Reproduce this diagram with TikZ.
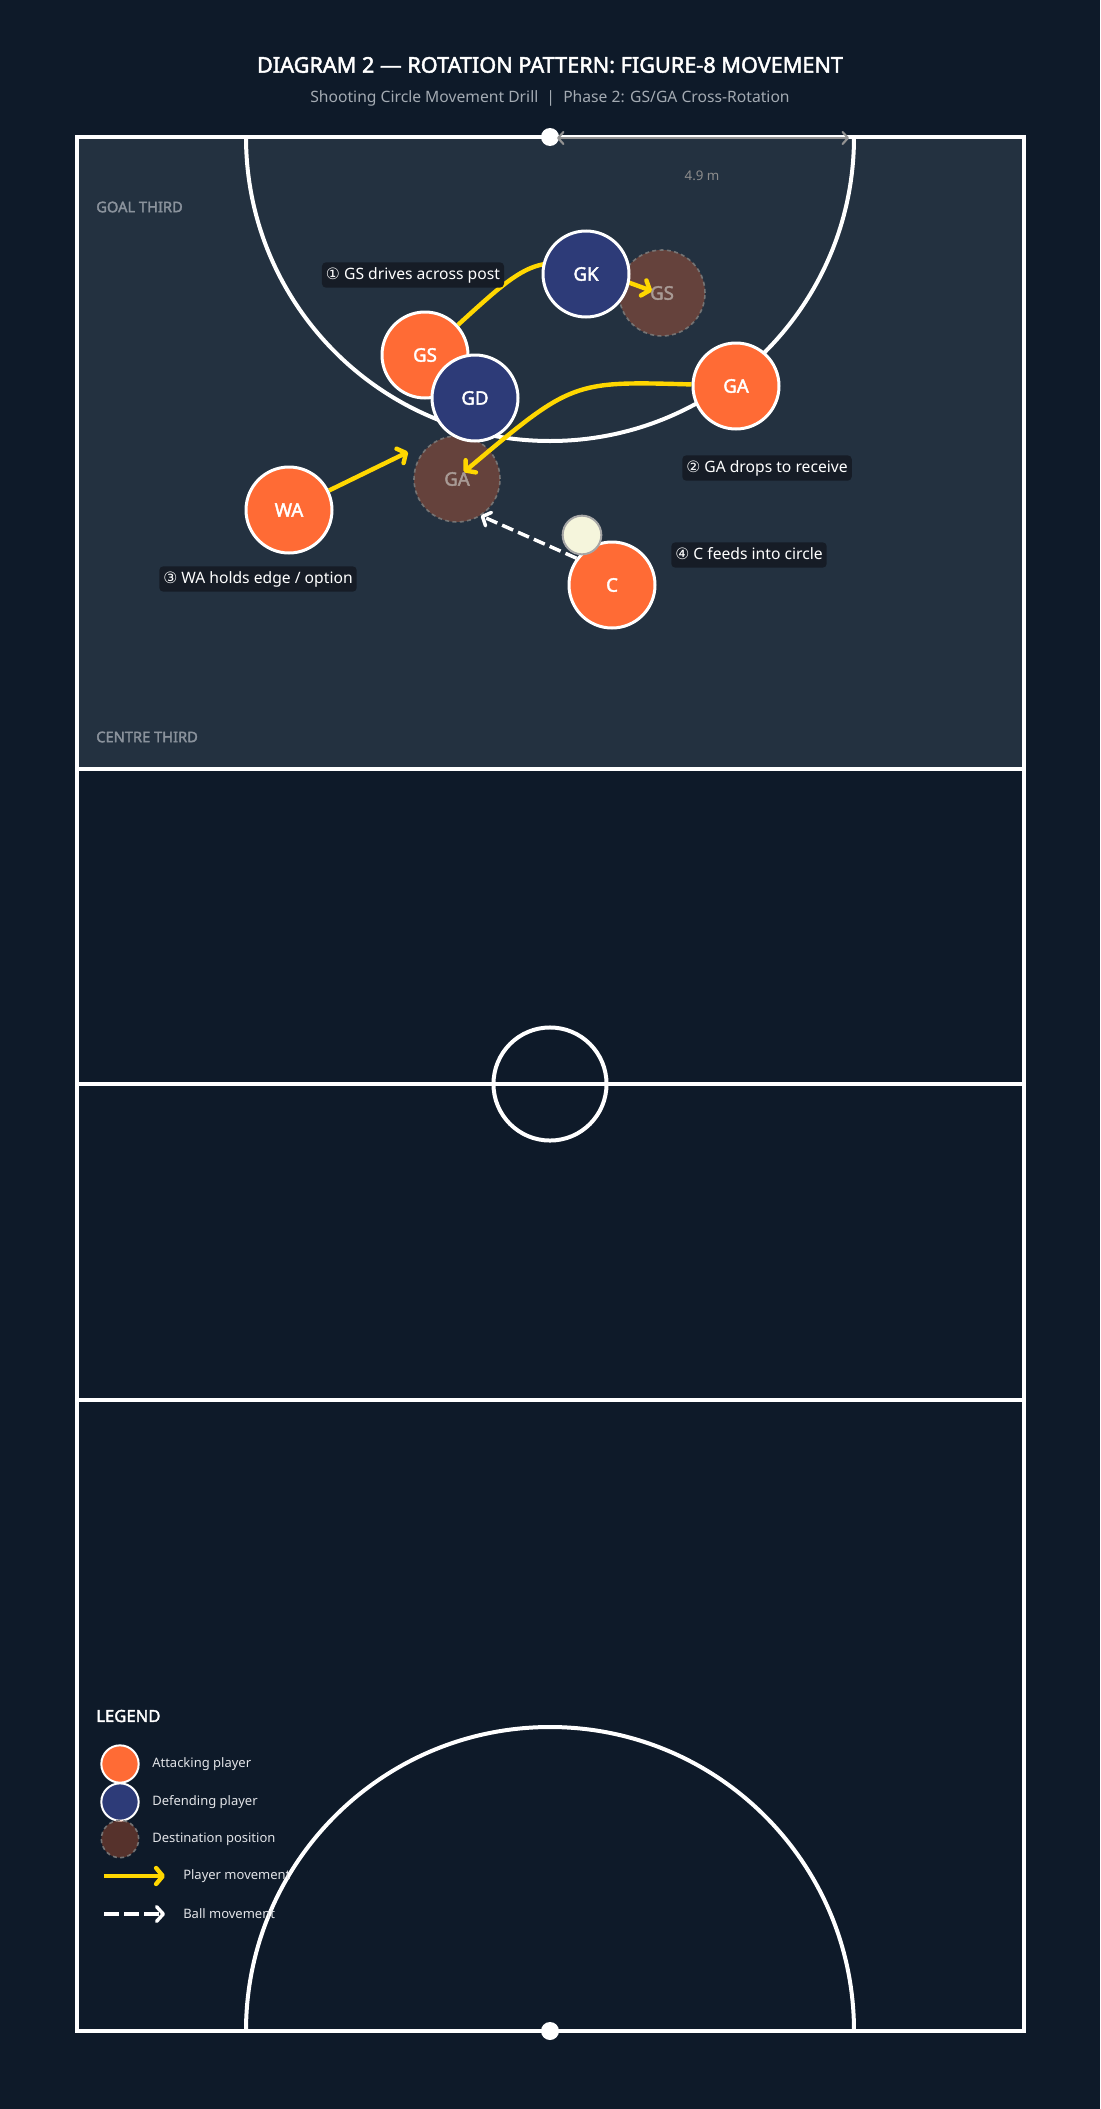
\documentclass[tikz,border=0pt]{standalone}
\usepackage{fontspec}
\setmainfont{Noto Sans}[AutoFakeBold=2.2]
\newfontfamily\symf{DejaVu Sans}
\usetikzlibrary{arrows.meta}
\definecolor{bgc}{HTML}{0E1A29}
\definecolor{thirdc}{HTML}{233140}
\definecolor{atkc}{HTML}{FF6B35}
\definecolor{defc}{HTML}{2D3B78}
\definecolor{mvc}{HTML}{FFD700}
\definecolor{lblc}{HTML}{161C26}
\definecolor{subc}{HTML}{A3AAB2}
\definecolor{zonec}{HTML}{8A929C}
\definecolor{ballc}{HTML}{F5F5DC}
\definecolor{destc}{HTML}{7A7A7A}
\definecolor{desttxt}{HTML}{A89A95}
\definecolor{legtxt}{HTML}{E2E4E8}
\pgfdeclarelayer{bg}
\pgfdeclarelayer{arr}
\pgfsetlayers{bg,arr,main}
\tikzset{
  court/.style={draw=white, line width=3pt},
  player/.style={circle, minimum size=64.5pt, inner sep=0pt, draw=white, line width=2.25pt, text=white, font=\bfseries\fontsize{14}{16}\selectfont},
  atk/.style={player, fill=atkc},
  dfn/.style={player, fill=defc},
  dest/.style={circle, minimum size=64.5pt, inner sep=0pt, fill=atkc, fill opacity=0.3, text opacity=1, draw=destc, draw opacity=0.9, dash pattern=on 3pt off 2.5pt, line width=1.2pt, text=desttxt, font=\bfseries\fontsize{14}{16}\selectfont},
  mvarrow/.style={draw=mvc, line width=3.3pt, -{Straight Barb[round,length=5pt,width=12pt]}},
  ballarrow/.style={draw=white, line width=2.6pt, dash pattern=on 9pt off 4pt, -{Straight Barb[round,length=5pt,width=11pt]}},
  lbl/.style={fill=lblc, rounded corners=3pt, text=white, font=\fontsize{11.75}{14}\selectfont, inner xsep=3pt, inner ysep=0pt, text height=9.5pt, text depth=2.8pt, minimum height=19pt},
  zone/.style={font=\bfseries\fontsize{11}{13}\selectfont, text=zonec, anchor=west, inner sep=0pt},
  legc/.style={circle, minimum size=28pt, inner sep=0pt, draw=white, line width=1.5pt},
  legt/.style={font=\fontsize{9.75}{12}\selectfont, text=legtxt, anchor=west, inner sep=0pt},
}
\begin{document}
\begin{tikzpicture}[x=0.75pt, y=-0.75pt]
\useasboundingbox (0,0) rectangle (1100,2109);
\begin{pgfonlayer}{bg}
\fill[bgc] (0,0) rectangle (1100,2109);
\fill[thirdc] (77,137) rectangle (1024,769);
\draw[court] (77,769) -- (1024,769);
\draw[court] (77,1084) -- (1024,1084);
\draw[court] (77,1400) -- (1024,1400);
\draw[court] (550,1084) circle[radius=42.4pt];
\begin{scope}
\clip (77,137) rectangle (1024,2031);
\draw[court] (550,137) circle[radius=228pt];
\draw[court] (550,2031) circle[radius=228pt];
\end{scope}
\draw[court] (77,137) rectangle (1024,2031);
\fill[white] (550,137) circle[radius=6.75pt];
\fill[white] (550,2031) circle[radius=6.75pt];
\coordinate (dimA) at (557,138);
\coordinate (dimB) at (849,138);
\draw[draw=gray!85, line width=1.6pt, {Straight Barb[round,length=4pt,width=9pt]}-{Straight Barb[round,length=4pt,width=9pt]}] (dimA) -- (dimB);
\node[font=\fontsize{10}{12}\selectfont, text=gray!90] (dimL) at (702,176) {4.9 m};
\node[zone] (gt) at (96,207) {GOAL THIRD};
\node[zone] (ct) at (96,737) {CENTRE THIRD};
\node[dest] (GSd) at (662,293) {GS};
\node[dest] (GAd) at (457,479) {GA};
\end{pgfonlayer}

% title
\node[font=\bfseries\fontsize{16.25}{19}\selectfont, text=white] (title) at (550,65) {DIAGRAM 2 — ROTATION PATTERN: FIGURE-8 MOVEMENT};
\node[font=\fontsize{11.75}{14}\selectfont, text=subc] (sub) at (550,98) {Shooting Circle Movement Drill\ \ |\ \ Phase 2: GS/GA Cross-Rotation};

% players
\node[atk] (GS) at (425,355) {GS};
\node[dfn] (GK) at (586,274) {GK};
\node[dfn] (GD) at (475,398) {GD};
\node[atk] (GA) at (736,386) {GA};
\node[atk] (WA) at (289,510) {WA};
\node[atk] (C) at (612,585) {C};

\coordinate (GSt) at (652,291);
\coordinate (GAt) at (464,472);
\coordinate (WAt) at (408,452);
\begin{pgfonlayer}{arr}
\draw[mvarrow] (GS) .. controls (540,250) .. (GSt);
\draw[mvarrow] (GA.178) .. controls (572,381) .. (GAt);
\draw[mvarrow] (WA) -- (WAt);
\draw[ballarrow] (C.143) -- (GAd.-57);
\end{pgfonlayer}

\node[circle, minimum size=29pt, inner sep=0pt, fill=ballc, draw=gray!70, line width=1.5pt] (ball) at (582,535) {};

% labels
\node[lbl] (l1) at (413,275) {{\symf ①} GS drives across post};
\node[lbl] (l2) at (767,468) {{\symf ②} GA drops to receive};
\node[lbl] (l3) at (258,579) {{\symf ③} WA holds edge / option};
\node[lbl] (l4) at (749,555) {{\symf ④} C feeds into circle};

% legend
\node[font=\bfseries\fontsize{12.5}{14}\selectfont, text=white, anchor=west, inner sep=0pt] (legT) at (96,1716) {LEGEND};
\node[legc, fill=atkc] (L1) at (120,1764) {};
\node[legt] (L1t) at (152,1764) {Attacking player};
\node[legc, fill=defc] (L2) at (120,1802) {};
\node[legt] (L2t) at (152,1802) {Defending player};
\node[legc, fill=atkc, fill opacity=0.3, draw=destc, draw opacity=0.9, dash pattern=on 3pt off 2.5pt, line width=1.2pt] (L3) at (120,1839) {};
\node[legt] (L3t) at (152,1839) {Destination position};
\coordinate (La4) at (104,1876);
\coordinate (Lb4) at (165,1876);
\draw[mvarrow] (La4) -- (Lb4);
\node[legt] (L4t) at (183,1876) {Player movement};
\coordinate (La5) at (104,1914);
\coordinate (Lb5) at (165,1914);
\draw[ballarrow, dash pattern=on 11pt off 4pt] (La5) -- (Lb5);
\node[legt] (L5t) at (183,1914) {Ball movement};
\end{tikzpicture}
\end{document}
